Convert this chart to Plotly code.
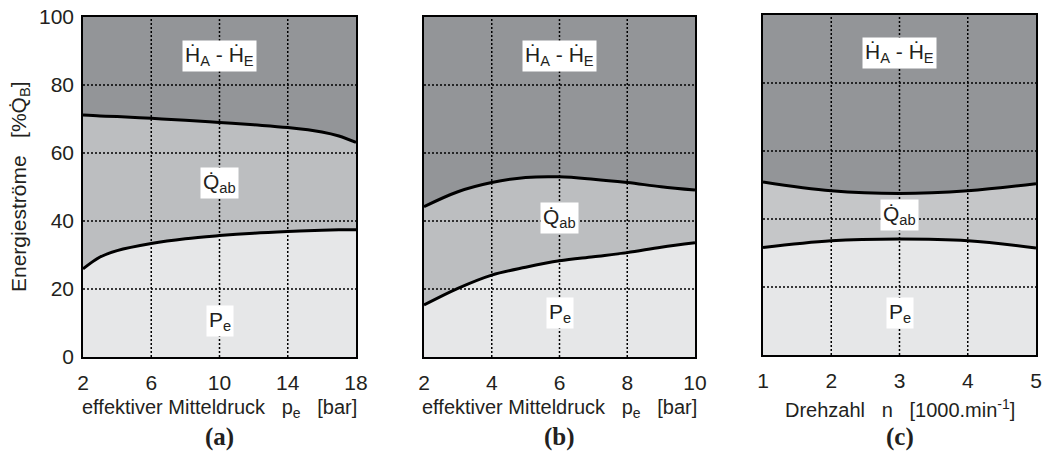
import plotly.graph_objects as go

# ---- data ----
xa = [2, 3, 4, 6, 8, 10, 12, 14, 16, 17, 18]
pe_a = [25.9, 29.4, 31.3, 33.4, 34.8, 35.7, 36.4, 36.9, 37.3, 37.4, 37.4]
qab_a = [71.2, 70.9, 70.7, 70.2, 69.6, 69.0, 68.3, 67.5, 66.2, 65.0, 63.1]

xb = [2, 3, 4, 5, 6, 7, 8, 9, 10]
pe_b = [15.3, 20.2, 24.1, 26.4, 28.3, 29.5, 30.7, 32.3, 33.6]
qab_b = [44.2, 48.6, 51.3, 52.8, 53.0, 52.3, 51.3, 50.1, 49.1]

xc = [1, 2, 3, 4, 5]
pe_c = [31.6, 33.6, 34.1, 33.6, 31.5]
qab_c = [50.9, 48.3, 47.5, 48.3, 50.4]

xticks_a = [2, 6, 10, 14, 18]
xticks_b = [2, 4, 6, 8, 10]
xticks_c = [1, 2, 3, 4, 5]
yticks = [0, 20, 40, 60, 80, 100]

C_DARK = "#939598"
C_MID = ["#bcbec0", "#bcbec0", "#c5c6c8"]
C_LIGHT = "#e6e7e8"
TXT = "#231f20"
SP = "\u00a0\u00a0\u00a0"

W, H = 1043, 456
doms = [(83 / W, 356 / W), (424 / W, 695 / W), (763 / W, 1036 / W)]
ydoms = [(1 - 357 / H, 1 - 17 / H), (1 - 357 / H, 1 - 17 / H), (1 - 355 / H, 1 - 15 / H)]

fig = go.Figure()

panels = [
    ("", xa, pe_a, qab_a, xticks_a, (88.5, 51.3, 10.6), 10),
    ("2", xb, pe_b, qab_b, xticks_b, (88.6, 41.0, 13.0), 6),
    ("3", xc, pe_c, qab_c, xticks_c, (88.8, 41.3, 12.5), 3),
]

for i, (sfx, x, pe, qab, xt, ly, lx) in enumerate(panels):
    xr, yr = "x" + sfx, "y" + sfx
    top = [100] * len(x)
    fig.add_trace(go.Scatter(x=x, y=pe, xaxis=xr, yaxis=yr, mode="lines", fill="tozeroy",
                             fillcolor=C_LIGHT, line=dict(width=0, shape="spline"),
                             hoverinfo="skip", showlegend=False))
    fig.add_trace(go.Scatter(x=x, y=qab, xaxis=xr, yaxis=yr, mode="lines", fill="tonexty",
                             fillcolor=C_MID[i], line=dict(width=0, shape="spline"),
                             hoverinfo="skip", showlegend=False))
    fig.add_trace(go.Scatter(x=x, y=top, xaxis=xr, yaxis=yr, mode="lines", fill="tonexty",
                             fillcolor=C_DARK, line=dict(width=0),
                             hoverinfo="skip", showlegend=False))
    # grid lines (dotted, drawn over fills)
    gx, gy = [], []
    for t in xt[1:-1]:
        gx += [t, t, None]
        gy += [0, 100, None]
    for t in yticks[1:-1]:
        gx += [x[0], x[-1], None]
        gy += [t, t, None]
    fig.add_trace(go.Scatter(x=gx, y=gy, xaxis=xr, yaxis=yr, mode="lines",
                             line=dict(color="black", width=1.5, dash="2px,2px"),
                             hoverinfo="skip", showlegend=False))
    for yy in (pe, qab):
        fig.add_trace(go.Scatter(x=x, y=yy, xaxis=xr, yaxis=yr, mode="lines",
                                 line=dict(color="black", width=3, shape="spline"),
                                 hoverinfo="skip", showlegend=False))
    axx = dict(domain=doms[i], range=[x[0], x[-1]], tickvals=xt, showgrid=False,
               zeroline=False, showline=True, linecolor="black", linewidth=1.5, mirror=True,
               ticks="outside", ticklen=6, tickcolor="rgba(0,0,0,0)", automargin=False,
               tickfont=dict(size=21, color=TXT), anchor=yr)
    axy = dict(domain=ydoms[i], range=[0, 100], tickvals=yticks, showgrid=False,
               zeroline=False, showline=True, linecolor="black", linewidth=1.5, mirror=True,
               ticks="outside", ticklen=3, tickcolor="rgba(0,0,0,0)", automargin=False,
               tickfont=dict(size=21, color=TXT), anchor=xr,
               showticklabels=(i == 0))
    fig.update_layout({"xaxis" + sfx: axx, "yaxis" + sfx: axy})

    # region labels
    texts = ["Ḣ<sub>A</sub> - Ḣ<sub>E</sub>", "Q̇<sub>ab</sub>", "P<sub>e</sub>"]
    for t, yy in zip(texts, ly):
        fig.add_annotation(x=lx, y=yy, xref=xr, yref=yr, text=t, showarrow=False,
                           bgcolor="white", borderpad=2, xanchor="center", yanchor="middle",
                           font=dict(size=21, color=TXT, family="Liberation Sans"))

# axis titles and captions
xtitles = ["effektiver Mitteldruck" + SP + "p<sub>e</sub>" + SP + "[bar]",
           "effektiver Mitteldruck" + SP + "p<sub>e</sub>" + SP + "[bar]",
           "Drehzahl" + SP + "n" + SP + "[1000.min<sup>-1</sup>]"]
caps = ["(a)", "(b)", "(c)"]
for i in range(3):
    cx = (doms[i][0] + doms[i][1]) / 2
    fig.add_annotation(x=cx, y=1 - 408 / H, xref="paper", yref="paper", text=xtitles[i],
                       showarrow=False, xanchor="center", yanchor="middle",
                       font=dict(size=20, color=TXT))
    fig.add_annotation(x=cx, y=1 - 437 / H, xref="paper", yref="paper",
                       text="<b>" + caps[i] + "</b>", showarrow=False,
                       xanchor="center", yanchor="middle",
                       font=dict(size=25, color=TXT, family="Liberation Serif"))
fig.add_annotation(x=20 / W, y=1 - 187 / H, xref="paper", yref="paper",
                   text="Energieströme" + SP + "[%Q̇<sub>B</sub>]", textangle=-90,
                   showarrow=False, xanchor="center", yanchor="middle",
                   font=dict(size=21, color=TXT))

fig.update_layout(width=W, height=H, margin=dict(l=0, r=0, t=0, b=0),
                  paper_bgcolor="white", plot_bgcolor="white",
                  font=dict(family="Liberation Sans", color=TXT))

fig.write_html("out.html")
